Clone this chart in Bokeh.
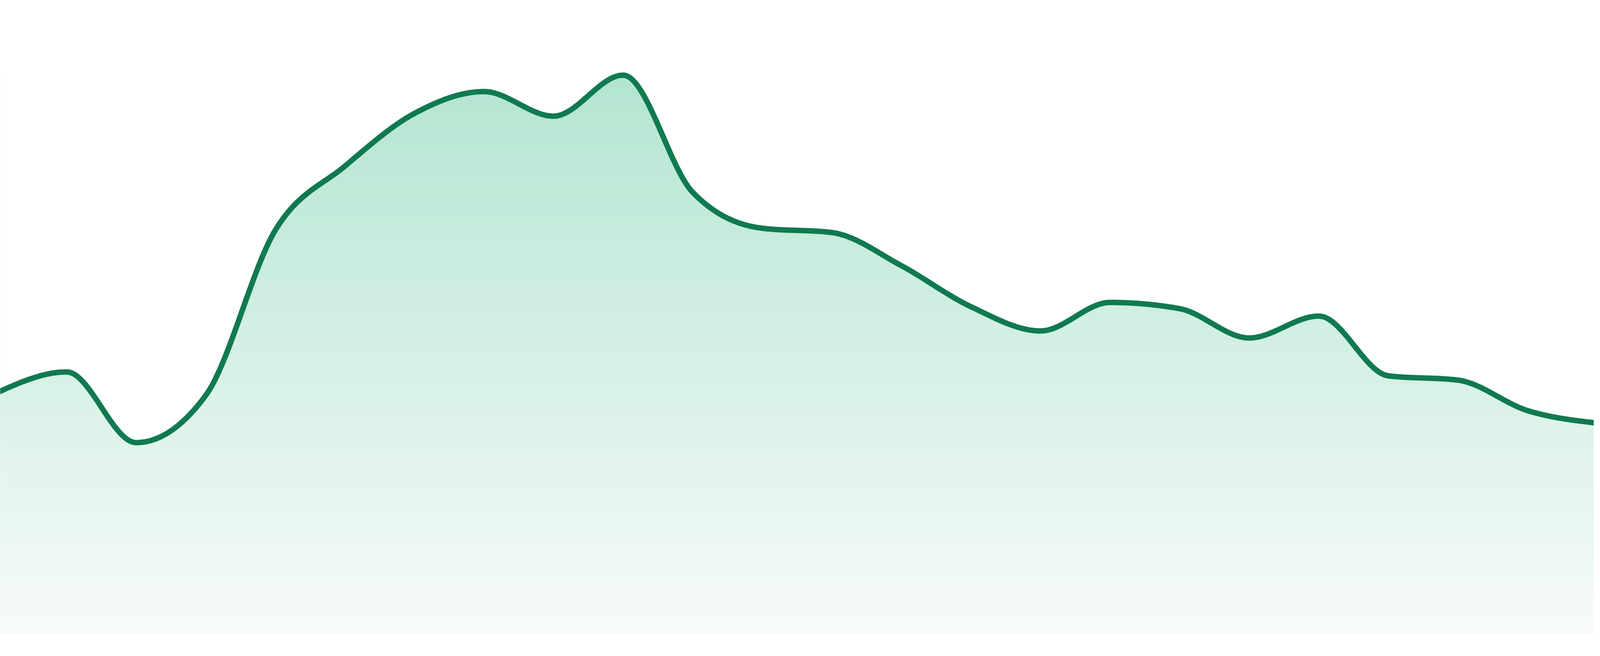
import numpy as np
from bokeh.plotting import figure
from bokeh.models import Range1d
from bokeh.embed import file_html
from bokeh.resources import INLINE

# values (24 evenly spaced samples)
idx = list(range(24))
values = [619, 672, 491, 612, 1035, 1199, 1334, 1390, 1327, 1432, 1132, 1040,
          1029, 944, 839, 777, 850, 834, 759, 815, 662, 651, 573, 541]

line_color = "#107a4f"
top_rgb = (179, 229, 209)
bottom_rgb = (247, 251, 249)


def monotone_curve(xs, ys, steps=40):
    """sample a monotone cubic (same shape as d3 curveMonotoneX) through the points"""
    xs = np.asarray(xs, float)
    ys = np.asarray(ys, float)
    n = len(xs)
    h = np.diff(xs)
    s = np.diff(ys) / h
    t = np.zeros(n)
    for i in range(1, n - 1):
        s0, s1 = s[i - 1], s[i]
        if s0 * s1 <= 0:
            t[i] = 0.0
        else:
            p = (s0 * h[i] + s1 * h[i - 1]) / (h[i - 1] + h[i])
            t[i] = (np.sign(s0) + np.sign(s1)) * min(abs(s0), abs(s1), 0.5 * abs(p))
    t[0] = (3 * s[0] - t[1]) / 2
    t[-1] = (3 * s[-1] - t[-2]) / 2
    out_x, out_y = [xs[0]], [ys[0]]
    u = np.linspace(0, 1, steps + 1)[1:]
    for i in range(n - 1):
        x0, x1 = xs[i], xs[i + 1]
        y0, y1 = ys[i], ys[i + 1]
        d = h[i] / 3
        cx = [x0, x0 + d, x1 - d, x1]
        cy = [y0, y0 + t[i] * d, y1 - t[i + 1] * d, y1]
        b = [(1 - u) ** 3, 3 * u * (1 - u) ** 2, 3 * u ** 2 * (1 - u), u ** 3]
        out_x.extend(sum(b[k] * cx[k] for k in range(4)))
        out_y.extend(sum(b[k] * cy[k] for k in range(4)))
    return list(out_x), list(out_y)


cx, cy = monotone_curve(idx, values)
top = max(values)

# the browser viewport comes out 4096 css px wide and 1680 tall,
# so the picture is squeezed sideways only
S = 4800 / 4096
W = 4096 - 16
H = 1680 - 16
k = 23 / 4800
p = figure(width=W, height=H, output_backend="svg", toolbar_location=None,
           x_range=Range1d(8 * S * k, (8 + W) * S * k),
           y_range=Range1d(1632 - (8 + H), 1632 - 8),
           x_axis_location=None, y_axis_location=None,
           min_border=0, outline_line_color=None)
p.grid.visible = False
p.background_fill_color = "white"
p.border_fill_color = "white"

# vertical gradient under the curve
rows = 400
frac = np.linspace(0, 1, rows)
img = np.empty((rows, 1), dtype=np.uint32)
view = img.view(dtype=np.uint8).reshape((rows, 1, 4))
for c in range(3):
    view[:, 0, c] = np.round(bottom_rgb[c] + (top_rgb[c] - bottom_rgb[c]) * frac).astype(np.uint8)
view[:, 0, 3] = 255
p.image_rgba(image=[img], x=0, y=0, dw=23, dh=top)

# mask everything above the curve
p.patch(cx + [23, 0], cy + [1700, 1700], fill_color="white", line_color=None)

p.line(cx, cy, line_color=line_color, line_width=14, line_join="round", line_cap="round")

open("out.html", "w").write(file_html(p, INLINE))
